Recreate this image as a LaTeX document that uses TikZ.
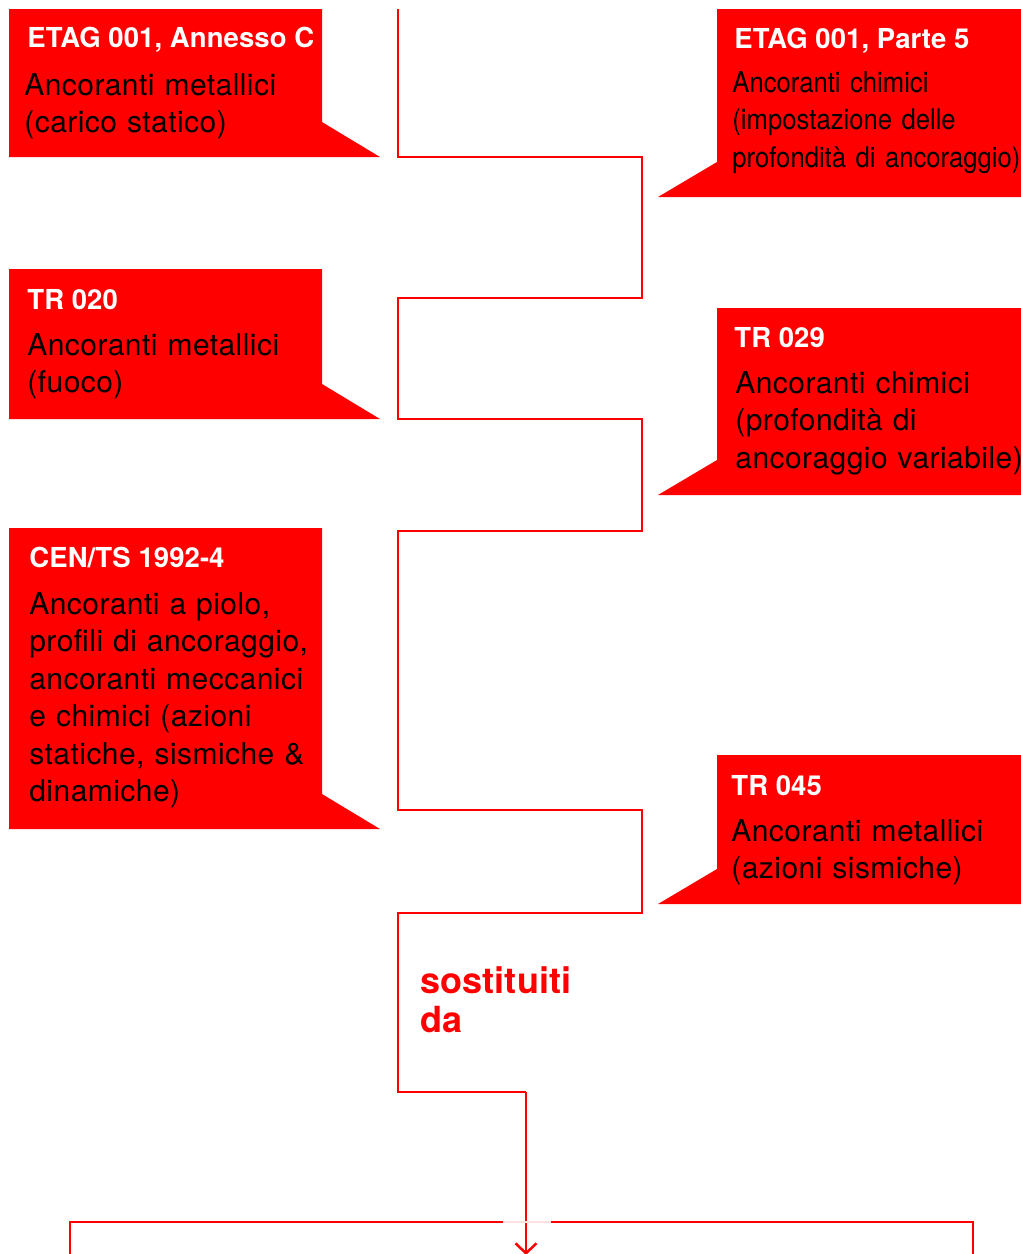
\documentclass[tikz,border=0pt]{standalone}
\usepackage{fontspec}
\setmainfont{TeX Gyre Heros}
\newfontfamily\headfont[LetterSpace=0.3]{TeX Gyre Heros}
\newfontfamily\bodyfont[LetterSpace=1.5]{TeX Gyre Heros}
\newfontfamily\narrowfont[FakeStretch=0.9]{TeX Gyre Heros}
\usepackage{tikz}
\usetikzlibrary{positioning,
                arrows.meta}
\definecolor{signalred}{HTML}{FF0000}

\begin{document}
\begin{tikzpicture}[x=0.5pt,y=-0.5pt]

\tikzset{
calloutbox/.style={
fill=signalred,
draw=none
},
callouthead/.style={
anchor=base west,
inner sep=0pt,
text=white,
font=\headfont\bfseries\fontsize{13.75pt}{16pt}\selectfont
},
calloutbody/.style={
anchor=base west,
inner sep=0pt,
text=black,
text width=175pt,
align=left,
font=\bodyfont\fontsize{15pt}{18.75pt}\selectfont
},
flowline/.style={
draw=signalred,
line width=1.25pt
}
}

\useasboundingbox (0,0) rectangle (1021,1254);

%--------------------------------------------------
% LEFT COLUMN
%--------------------------------------------------

\fill[calloutbox] (9,9) -- (322,9) -- (322,122) -- (380,157) -- (9,157) -- cycle;
\node[callouthead] (etagC) at (27,47) {ETAG 001, Annesso C};
\node[calloutbody] (etagCtxt) at (24,95) {Ancoranti metallici\\(carico statico)};

\fill[calloutbox] (9,269) -- (322,269) -- (322,384) -- (380,419) -- (9,419) -- cycle;
\node[callouthead] (trA) at (27,309) {TR 020};
\node[calloutbody] (trAtxt) at (27,355) {Ancoranti metallici\\(fuoco)};

\fill[calloutbox] (9,528) -- (322,528) -- (322,794) -- (380,829) -- (9,829) -- cycle;
\node[callouthead] (cents) at (29,567) {CEN/TS 1992-4};
\node[calloutbody] (centstxt) at (29,614) {Ancoranti a piolo,\\profili di ancoraggio,\\ancoranti meccanici\\e chimici (azioni\\statiche, sismiche \&\\dinamiche)};

%--------------------------------------------------
% RIGHT COLUMN
%--------------------------------------------------

\fill[calloutbox] (717,9) -- (1021,9) -- (1021,197) -- (658,197) -- (717,162) -- cycle;
\node[callouthead] (etagP) at (734,48) {ETAG 001, Parte 5};
\node[calloutbody,font=\narrowfont\fontsize{14.25pt}{18.75pt}\selectfont] (etagPtxt) at (732,92) {Ancoranti chimici\\(impostazione delle\\profondità di ancoraggio)};

\fill[calloutbox] (717,308) -- (1021,308) -- (1021,495) -- (658,495) -- (717,460) -- cycle;
\node[callouthead] (trB) at (734,347) {TR 029};
\node[calloutbody] (trBtxt) at (735,393) {Ancoranti chimici\\(profondità di\\ancoraggio variabile)};

\fill[calloutbox] (717,755) -- (1021,755) -- (1021,904) -- (658,904) -- (717,869) -- cycle;
\node[callouthead] (trC) at (731,795) {TR 045};
\node[calloutbody] (trCtxt) at (731,841) {Ancoranti metallici\\(azioni sismiche)};

%--------------------------------------------------
% TIME LINE
%--------------------------------------------------

\coordinate (t0) at (398,9);
\coordinate (t1) at (642,157);
\coordinate (t2) at (398,298);
\coordinate (t3) at (642,419);
\coordinate (t4) at (398,531);
\coordinate (t5) at (642,810);
\coordinate (t6) at (398,913);
\coordinate (t7) at (526,1092);
\coordinate (t8) at (526,1255);

\draw[flowline] (t0) |- (t1) |- (t2) |- (t3) |- (t4) |- (t5) |- (t6) |- (t7);
\draw[flowline,-{Straight Barb[length=5pt,width=10.5pt]}] (t7) -- (t8);

\node[anchor=base west,inner sep=0pt,text=signalred,text width=100pt,align=left,
      font=\headfont\bfseries\fontsize{18pt}{19.75pt}\selectfont] (replaced) at (420,993) {sostituiti\\da};

%--------------------------------------------------
% BOTTOM FRAME
%--------------------------------------------------

\coordinate (f0) at (503,1222);
\coordinate (f1) at (70,1270);
\coordinate (f2) at (551,1222);
\coordinate (f3) at (973,1270);

\draw[flowline] (f0) -| (f1);
\draw[flowline] (f2) -| (f3);
\draw[draw=signalred!12,line width=1.25pt] (f0) -- (f2);

\end{tikzpicture}
\end{document}
